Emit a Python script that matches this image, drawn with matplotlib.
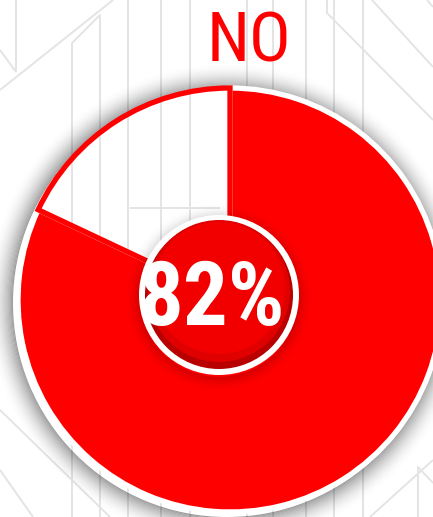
import matplotlib
matplotlib.use("Agg")
import matplotlib.pyplot as plt
from matplotlib.patches import Circle, Wedge

# ---- data ----
categories = ["Yes", "No"]
values = [82, 18]
title_text = "NO"
center_label = "82%"

RED = "#ff0000"
W, H = 433, 517

fig = plt.figure(figsize=(W / 100, H / 100), dpi=100)
ax = fig.add_axes([0, 0, 1, 1])

def py(y):
    return H - y

# decorative background lines (pixel coords, y from top)
bg_lines = [
    [(0, 90), (113, 0)],
    [(0, 50), (16, 72)],
    [(16, 0), (16, 72)],
    [(72, 517), (72, 43), (100, 15), (100, 517)],
    [(128, 0), (128, 517)],
    [(161, 0), (161, 517)],
    [(190, 0), (190, 517)],
    [(247, 0), (247, 517)],
    [(273, 0), (273, 517)],
    [(306, 0), (306, 517)],
    [(334, 0), (334, 517)],
    [(363, 0), (363, 517)],
    [(327, 0), (327, 13), (433, 120)],
    [(372, 0), (433, 67)],
    [(427, 0), (433, 7)],
    [(0, 410), (110, 517)],
    [(0, 470), (33, 517)],
    [(418, 517), (418, 467), (433, 483)],
    [(433, 460), (370, 517)],
    [(130, 208), (220, 208)],
]
for seg in bg_lines:
    xs = [p[0] for p in seg]
    ys = [py(p[1]) for p in seg]
    ax.plot(xs, ys, color="#e4e4e4", lw=1.4, zorder=0, solid_capstyle="butt")

cx, cy, R = 230, py(300), 212

# outer shadow
n = 24
for i in range(n):
    a = 0.38 * (1 - i / n) ** 2
    ax.add_patch(Wedge((cx - 3, cy - 3), R + 2 + (i + 1) * 1.1, 0, 360, width=1.1,
                       facecolor="black", edgecolor="none", alpha=a, zorder=1))

wedges, _ = ax.pie(values, colors=[RED, "none"], startangle=90, counterclock=False,
                   radius=R, center=(cx, cy), frame=True,
                   wedgeprops=dict(linewidth=3.8))
wedges[0].set_edgecolor("white")
wedges[0].set_zorder(2)
wedges[1].set_edgecolor(RED)
wedges[1].set_facecolor("none")
wedges[1].set_zorder(3)
wedges[1].set_joinstyle("miter")

# inner circle
icx, icy, ir = 219, py(295), 80
for i in range(14):
    a = 0.16 * (1 - i / 14) ** 2
    ax.add_patch(Wedge((icx, icy - 3), ir + i * 1.2, 0, 360, width=1.2,
                       facecolor="black", edgecolor="none", alpha=a, zorder=4))
ax.add_patch(Circle((icx, icy), ir, facecolor="white", edgecolor="none", zorder=5))
ax.add_patch(Circle((icx, icy), ir - 6, facecolor="#b80000", edgecolor="none", zorder=6))
ax.add_patch(Circle((icx, icy + 4), ir - 9, facecolor="#e00000", edgecolor="none", zorder=7))
ax.add_patch(Circle((icx, icy + 7), ir - 14, facecolor="#f20000", edgecolor="none", zorder=8))

fams = ["Roboto Condensed", "DejaVu Sans"]
ax.text(212, py(325), center_label, color="white", fontsize=64, fontweight="bold",
        family=fams, fontstretch="condensed", ha="center", va="baseline", zorder=10)
ax.text(249, py(62), title_text, color=RED, fontsize=50, family=fams,
        fontstretch="condensed", ha="center", va="baseline", zorder=10)

ax.set_xlim(0, W)
ax.set_ylim(0, H)
ax.set_aspect("auto")
ax.axis("off")
fig.savefig("out.png", dpi=100, facecolor="white")
